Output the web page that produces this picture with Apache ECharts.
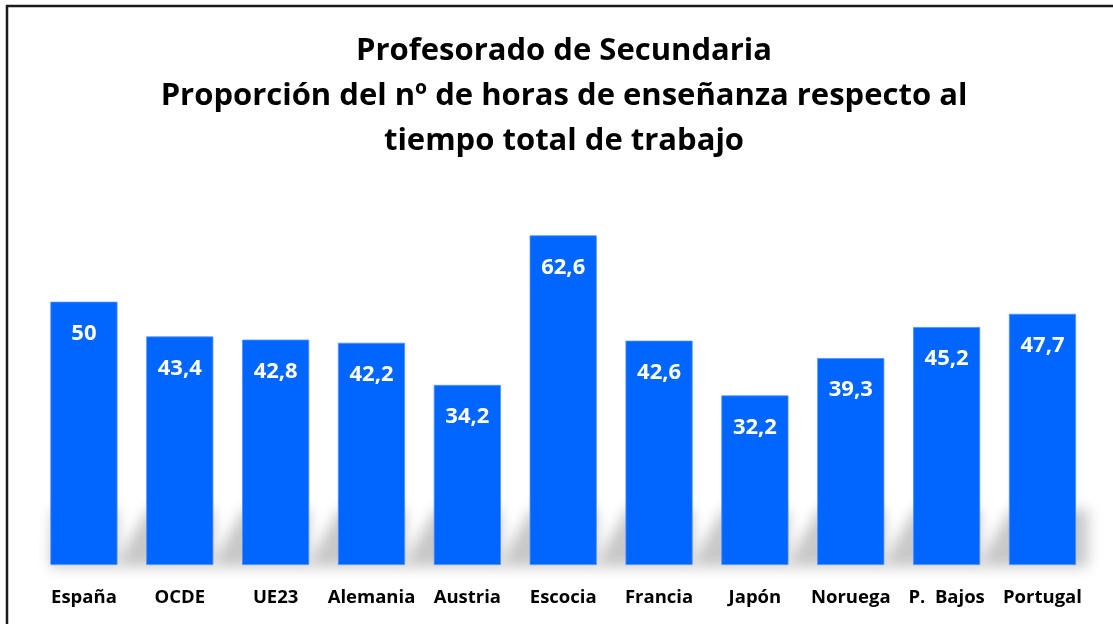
<!DOCTYPE html>
<html>
<head>
<meta charset="utf-8">
<script src="https://cdn.jsdelivr.net/npm/echarts@6/dist/echarts.min.js"></script>
<style>
html,body{margin:0;padding:0;background:#fff;}
#chart{width:1113px;height:624px;}
</style>
</head>
<body>
<div id="chart"></div>
<script>
const titleText = 'Profesorado de Secundaria\nProporción del nº de horas de enseñanza respecto al\ntiempo total de trabajo';
const categories = ['España', 'OCDE', 'UE23', 'Alemania', 'Austria', 'Escocia', 'Francia', 'Japón', 'Noruega', 'P.  Bajos', 'Portugal'];
const values = [50, 43.4, 42.8, 42.2, 34.2, 62.6, 42.6, 32.2, 39.3, 45.2, 47.7];

const FONT = '"Open Sans"';
const chart = echarts.init(document.getElementById('chart'), null, {renderer: 'canvas'});

const shadowData = values.map((v, i) => [i, v]);
const OFF = 3000;

chart.setOption({
  backgroundColor: '#ffffff',
  animation: false,
  title: {
    text: titleText,
    left: 559,
    textAlign: 'center',
    top: 24,
    textStyle: {
      fontFamily: FONT,
      fontWeight: 'bold',
      fontSize: 31,
      lineHeight: 45,
      color: '#000'
    }
  },
  graphic: [{
    type: 'rect',
    shape: {x: 7, y: 6, width: 1300, height: 800},
    style: {fill: 'none', stroke: '#1a1a1a', lineWidth: 2.5},
    silent: true,
    z: 100
  }],
  grid: {left: 36, right: 22.6, top: 196.4, bottom: 59, containLabel: false},
  xAxis: {
    type: 'category',
    data: categories,
    axisLine: {show: false},
    axisTick: {show: false},
    axisLabel: {
      interval: 0,
      margin: 23,
      fontFamily: FONT,
      fontWeight: 'bold',
      fontSize: 18.5,
      color: '#000'
    }
  },
  yAxis: {
    type: 'value',
    min: 0,
    max: 70,
    show: false,
    splitLine: {show: false}
  },
  series: [
    {
      type: 'custom',
      z: 1,
      silent: true,
      data: shadowData,
      encode: {x: 0, y: 1},
      renderItem: function (params, api) {
        const idx = api.value(0);
        const base = api.coord([idx, 0]);
        const band = api.size([1, 0])[0];
        const bw = band * 0.7;
        const g = band - bw;
        const x0 = base[0] - bw / 2 - OFF;
        const x1 = base[0] + bw / 2 - OFF;
        const yb = base[1] + 2;
        const h = 58;
        const left = idx === 0 ? 0 : g + 4;
        const extra = idx === values.length - 1 ? 12 : 0;
        return {
          type: 'polygon',
          shape: {points: [[x0 - left, yb], [x0 + 2, yb - h], [x1 + extra, yb - h], [x1 + extra, yb]]},
          style: {
            fill: '#000',
            shadowBlur: 14,
            shadowOffsetX: OFF,
            shadowOffsetY: 0,
            shadowColor: 'rgba(200,200,200,1)'
          }
        };
      }
    },
    {
      type: 'bar',
      z: 2,
      data: values,
      barCategoryGap: '30%',
      itemStyle: {color: '#0066FF', borderColor: '#4d8fff', borderWidth: 0.8},
      label: {
        show: true,
        position: 'insideTop',
        distance: 21,
        fontFamily: FONT,
        fontWeight: 'bold',
        fontSize: 22,
        color: '#fff',
        formatter: p => String(p.value).replace('.', ',')
      }
    }
  ]
});
</script>
</body>
</html>
